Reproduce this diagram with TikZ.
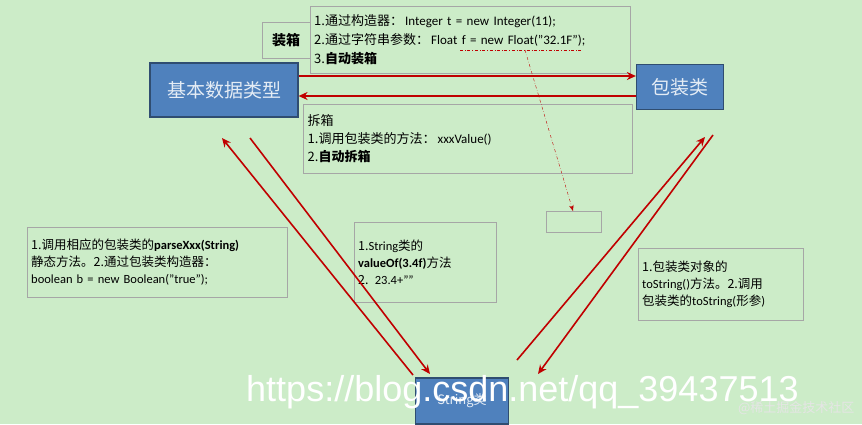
\documentclass[tikz,border=0pt]{standalone}
\usepackage{fontspec}
\setmainfont{Carlito}
\newfontfamily\cjk{Noto Sans CJK SC}
\usetikzlibrary{arrows.meta,calc}
\definecolor{bgreen}{RGB}{204,236,200}
\definecolor{bblue}{RGB}{79,129,189}
\definecolor{bred}{RGB}{192,0,0}
\tikzset{
  typebox/.style={draw=bblue!60!black, fill=bblue, line width=1.2pt, text=white!85!bblue, font=\cjk\fontsize{19}{19}\selectfont, inner sep=0pt},
  notebox/.style={draw=gray!70, fill=bgreen, inner sep=4pt, align=left, font=\cjk\fontsize{13}{18}\selectfont, anchor=north west},
  redarrow/.style={draw=bred, line width=1.6pt, -{Stealth[length=9pt,width=8pt]}},
}
\begin{document}
\begin{tikzpicture}[x=1pt,y=-1pt]
\fill[bgreen] (0,0) rectangle (862,424);
\useasboundingbox (0,0) rectangle (862,424);
% the three kinds
\node[typebox, minimum width=148pt, minimum height=54pt] (basic) at (224,90) {基本数据类型};
\node[typebox, minimum width=87pt, minimum height=45pt] (wrapper) at (680,87) {包装类};
\node[typebox, minimum width=93pt, minimum height=46pt, font=\cjk\fontsize{13}{13}\selectfont] (str) at (462,401) {String类};
% notes
\node[notebox, minimum width=48pt, minimum height=36pt, align=center, anchor=center, font=\cjk\bfseries\fontsize{14}{14}\selectfont] (boxing) at (286,40) {装箱};
\node[notebox, minimum width=320pt, minimum height=67pt, inner sep=3pt, text width=312pt, font=\cjk\fontsize{13}{19}\selectfont] (boxnote) at (310,6)
  {1.通过构造器：\,{\rmfamily Integer t = new Integer(11);}\\
   2.通过字符串参数：\,{\rmfamily Float f = new Float("32.1F");}\\
   3.\textbf{自动装箱}};
\node[notebox, minimum width=329pt, minimum height=69pt, text width=320pt] (unboxnote) at (303,104)
  {拆箱\\1.调用包装类的方法：\,{\rmfamily xxxValue()}\\2.\textbf{自动拆箱}};
\node[notebox, minimum width=55pt, minimum height=21pt] (empty) at (546,211) {};
\node[notebox, minimum width=260pt, minimum height=70pt, text width=252pt, font=\cjk\fontsize{12.5}{17}\selectfont] (leftnote) at (27,227)
  {1.调用相应的包装类的{\rmfamily\bfseries parseXxx(String)}\\静态方法。2.通过包装类构造器：\\{\rmfamily boolean b = new Boolean("true");}};
\node[notebox, minimum width=142pt, minimum height=80pt, text width=134pt, font=\cjk\fontsize{12.5}{17}\selectfont] (midnote) at (354,222)
  {1.{\rmfamily String}类的\\{\rmfamily\bfseries valueOf(3.4f)}方法\\2. {\rmfamily 23.4+""}};
\node[notebox, minimum width=165pt, minimum height=72pt, text width=157pt, font=\cjk\fontsize{12.5}{17}\selectfont] (rightnote) at (638,248)
  {1.包装类对象的\\{\rmfamily toString()}方法。2.调用\\包装类的{\rmfamily toString(}形参{\rmfamily )}};
% connectors
\coordinate (ul) at (460,50);
\coordinate (ur) at (583,50);
\draw[bred, dash dot] (ul) -- (ur);
\draw[bred, dash dot, -{Stealth[length=6pt]}] (525,50) -- (empty.north -| 573,0);
\draw[redarrow] (basic.east |- 0,76) -- (wrapper.west |- 0,76);
\draw[redarrow] (wrapper.west |- 0,96) -- (basic.east |- 0,96);
\draw[redarrow] (413,375) -- (222,138);
\draw[redarrow] (250,138) -- (430,374);
\draw[redarrow] (517,360) -- (705,137);
\draw[redarrow] (713,135) -- (538,374);
% watermark
\node[text=white, font=\fontspec{Liberation Sans}\fontsize{36}{36}\selectfont, anchor=west, inner sep=0pt] (mark) at (246,392) {https://blog.csdn.net/qq\_39437513};
\node[text=white!80!gray, font=\cjk\fontsize{13}{13}\selectfont, anchor=east] (site) at (858,408) {@稀土掘金技术社区};
\end{tikzpicture}
\end{document}
